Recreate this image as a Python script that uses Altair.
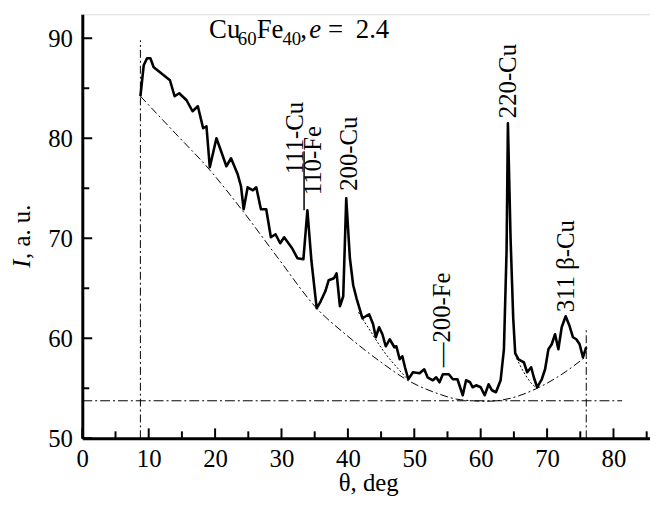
import altair as alt
import pandas as pd

# ---- measured curve (theta, deg ; intensity, a.u.) ----
theta = [8.75, 9.25, 9.75, 10.25, 10.75, 11.7, 13.2, 13.9, 14.6, 15.7, 16.6, 17.4, 18.2, 18.7,
         19.2, 20.2, 20.8, 21.7, 22.4, 23.4, 23.9, 24.3, 24.9, 25.7, 26.2, 26.9, 27.7, 28.4,
         29.1, 29.8, 30.4, 31.6, 32.4, 33.3, 33.9, 34.5, 35.3, 35.9, 36.6, 37.1, 37.9, 38.3,
         38.8, 39.3, 39.75, 40.3, 40.8, 41.3, 42.2, 42.7, 43.2, 43.8, 44.2, 44.7, 45.2, 45.7,
         46.3, 47.0, 47.3, 47.8, 48.2, 48.6, 49.1, 49.8, 50.8, 51.5, 52.0, 52.8, 53.3, 53.8,
         54.3, 55.2, 55.8, 56.5, 57.3, 57.8, 58.4, 58.8, 59.3, 60.0, 60.6, 61.2, 61.7, 62.3,
         63.0, 63.5, 63.9, 64.1, 64.5, 64.9, 65.2, 65.7, 66.5, 67.0, 67.6, 68.0, 68.5, 69.2,
         69.7, 70.2, 70.7, 71.2, 71.7, 72.2, 72.8, 73.4, 73.9, 74.4, 74.9, 75.4, 75.9]
intensity = [84.2, 87.3, 88.0, 88.0, 87.1, 86.6, 85.8, 84.2, 84.5, 83.8, 82.7, 83.2, 81.0, 81.2,
             77.1, 80.0, 78.9, 77.2, 78.0, 76.4, 75.2, 72.9, 75.1, 74.8, 75.1, 72.9, 72.9, 70.1,
             70.4, 69.5, 70.1, 69.0, 68.0, 67.9, 72.8, 67.8, 63.0, 63.7, 64.7, 65.8, 66.0, 66.5,
             63.2, 64.2, 74.0, 68.0, 65.3, 64.0, 62.0, 62.2, 62.4, 61.4, 60.1, 61.1, 60.4, 59.2,
             59.9, 59.1, 59.2, 57.9, 58.2, 57.1, 55.9, 56.6, 56.5, 56.9, 56.1, 55.8, 56.1, 55.6,
             56.4, 56.4, 55.9, 55.9, 54.3, 55.8, 55.6, 55.1, 55.3, 55.1, 54.3, 55.4, 54.8, 54.6,
             55.8, 58.9, 68.8, 81.5, 70.0, 62.0, 58.5, 57.9, 57.6, 56.6, 57.1, 56.1, 55.1, 55.9,
             56.9, 58.9, 59.4, 60.4, 58.9, 61.1, 62.2, 61.2, 60.1, 59.9, 59.4, 58.1, 59.1]

# ---- background (dash-dot) curve ----
base_theta = [8.75, 14.0, 19.1, 24.2, 29.5, 35.3, 40.0, 45.0, 49.0, 53.0, 57.0, 61.0, 64.5, 68.5, 72.0, 75.9]
base_int = [84.2, 80.5, 76.9, 72.7, 68.0, 63.0, 60.2, 57.6, 55.8, 54.6, 53.85, 53.7, 54.0, 55.0, 56.3, 58.2]

# ---- auxiliary dotted curves under peak tails ----
aux1_theta = [41.6, 43.5, 45.5, 47.5, 49.0]
aux1_int = [62.6, 60.6, 58.6, 57.0, 55.9]
aux2_theta = [65.4, 66.5, 67.5, 68.5]
aux2_int = [58.0, 56.6, 55.6, 55.0]

# ---- reference lines ----
left_limit, left_top = 8.75, 89.8
right_limit, right_top = 75.9, 61.0
min_level, min_level_end = 53.75, 81.3

# ---- peak labels ----
peak_labels = ["111-Cu", "110-Fe", "200-Cu", "220-Cu", "\u2014200-Fe", "311 \u03b2-Cu"]
peak_x = [32.0, 34.7, 40.15, 64.1, 54.2, 72.8]
peak_y = [76.4, 74.3, 74.75, 82.0, 57.1, 62.6]

x_major = [0, 10, 20, 30, 40, 50, 60, 70, 80]
x_minor = [5, 15, 25, 35, 45, 55, 65, 75, 85]
y_major = [50, 60, 70, 80, 90]
y_minor = [55, 65, 75, 85]

FONT = "Liberation Serif"
W, H = 573, 428
xs = alt.Scale(domain=[0, 85.5], nice=False, zero=False)
ys = alt.Scale(domain=[50, 92.4], nice=False, zero=False)
AX = alt.Axis(values=x_major, title=None, ticks=False, grid=False, domainWidth=3,
              domainColor="black", labelFont=FONT, labelFontSize=25, labelColor="black",
              labelPadding=8, labelFlush=False)
AY = alt.Axis(values=y_major, title=None, ticks=False, grid=False, domainWidth=3,
              domainColor="black", labelFont=FONT, labelFontSize=25, labelColor="black",
              labelPadding=10, labelFlush=False)


def X(field="x"):
    return alt.X(f"{field}:Q", scale=xs, axis=AX, title=None)


def Y(field="y"):
    return alt.Y(f"{field}:Q", scale=ys, axis=AY, title=None)


df = pd.DataFrame({"x": theta, "y": intensity, "i": range(len(theta))})
bdf = pd.DataFrame({"x": base_theta, "y": base_int})
a1 = pd.DataFrame({"x": aux1_theta, "y": aux1_int})
a2 = pd.DataFrame({"x": aux2_theta, "y": aux2_int})

main = alt.Chart(df).mark_line(color="black", strokeWidth=2.6, strokeJoin="round").encode(
    x=X(), y=Y(), order="i:Q")

dashdot = [8, 3, 2, 3]
base = alt.Chart(bdf).mark_line(color="black", strokeWidth=1, strokeDash=dashdot,
                                interpolate="monotone").encode(x=X(), y=Y())
aux1 = alt.Chart(a1).mark_line(color="black", strokeWidth=1, strokeDash=[2, 2],
                               interpolate="monotone").encode(x=X(), y=Y())
aux2 = alt.Chart(a2).mark_line(color="black", strokeWidth=1, strokeDash=[2, 2],
                               interpolate="monotone").encode(x=X(), y=Y())

vl = pd.DataFrame({"x": [left_limit, right_limit], "y": [50, 50], "y2": [left_top, right_top]})
vlines = alt.Chart(vl).mark_rule(color="black", strokeWidth=1, strokeDash=dashdot).encode(
    x=X(), y=Y(), y2="y2:Q")
hl = pd.DataFrame({"x": [0], "x2": [min_level_end], "y": [min_level]})
hline = alt.Chart(hl).mark_rule(color="black", strokeWidth=1, strokeDash=[10, 3, 2, 3]).encode(
    x=X(), x2="x2:Q", y=Y())


# inward ticks
def xticks(vals, length):
    d = pd.DataFrame({"x": vals})
    return alt.Chart(d).mark_rule(color="black", strokeWidth=2).encode(
        x=X(), y=alt.value(H), y2=alt.value(H - length))


def yticks(vals, length):
    d = pd.DataFrame({"y": vals})
    return alt.Chart(d).mark_rule(color="black", strokeWidth=2).encode(
        y=Y(), x=alt.value(0), x2=alt.value(length))


ticks = [xticks(x_major, 10), xticks(x_minor, 7), yticks(y_major, 10), yticks(y_minor, 7)]

ldf = pd.DataFrame({"t": peak_labels, "x": peak_x, "y": peak_y})
labels = alt.Chart(ldf).mark_text(angle=270, align="left", baseline="middle", font=FONT,
                                  fontSize=25, color="black").encode(
    x=X(), y=Y(), text="t:N")

bar = alt.Chart(pd.DataFrame({"x": [33.4], "y": [72.8], "y2": [78.7]})).mark_rule(
    color="black", strokeWidth=1.5).encode(x=X(), y=Y(), y2="y2:Q")


def ptext(t, px, py, size, style="normal", angle=0, align="left", baseline="alphabetic"):
    return alt.Chart(pd.DataFrame({"t": [t]})).mark_text(
        font=FONT, fontSize=size, fontStyle=style, angle=angle, align=align,
        baseline=baseline, color="black").encode(
        x=alt.value(px), y=alt.value(py), text="t:N")


title = [
    ptext("Cu", 128, 24, 27),
    ptext("60", 157, 31, 19),
    ptext("Fe", 176, 24, 27),
    ptext("40", 202, 31, 19),
    ptext(",", 220, 24, 27),
    ptext("e", 229, 24, 27, "italic"),
    ptext("=", 248, 24, 27),
    ptext("2.4", 276, 24, 27),
]
axis_titles = [
    ptext("\u03b8, deg", 289, 481, 25, align="center"),
    ptext("I", -61, 256, 25, "italic", angle=270, baseline="middle"),
    ptext(", a. u.", -61, 247, 25, angle=270, baseline="middle"),
]

chart = alt.layer(main, base, aux1, aux2, vlines, hline, *ticks, labels, bar, *title,
                  *axis_titles).properties(
    width=W, height=H, autosize=alt.AutoSizeParams(type="none"),
    padding={"left": 75, "top": 4, "right": 0, "bottom": 60},
).configure_view(stroke=None).configure(background="white")

chart.save("out.html", embed_options={"renderer": "svg", "actions": False})
